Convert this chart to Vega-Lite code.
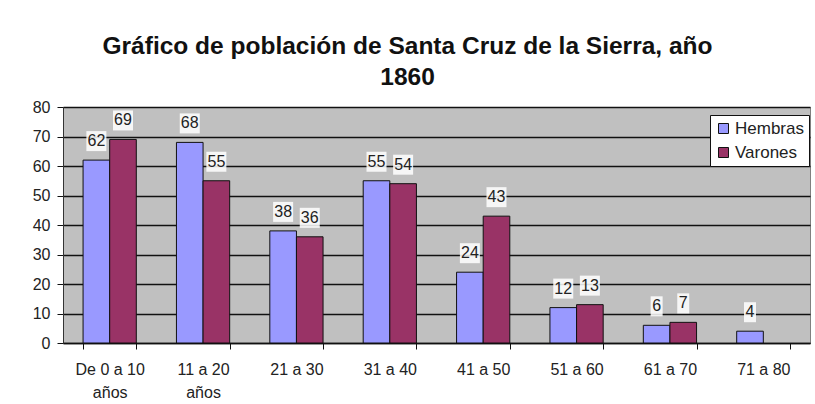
{
  "$schema": "https://vega.github.io/schema/vega-lite/v6.json",
  "width": 747,
  "height": 236,
  "autosize": {"type": "none"},
  "padding": {"left": 63, "top": 107, "right": 5, "bottom": 61},
  "background": "white",
  "title": {
    "text": ["Gráfico de población de Santa Cruz de la Sierra, año", "1860"],
    "font": "Liberation Sans",
    "fontSize": 24.5,
    "fontWeight": "bold",
    "color": "#111111",
    "lineHeight": 31,
    "offset": 9,
    "dx": -29
  },
  "config": {
    "font": "Liberation Sans",
    "view": {"fill": "#C0C0C0", "stroke": "#808080", "strokeWidth": 1}
  },
  "data": {
    "values": [
      {"grupo": "De 0 a 10 años", "sexo": "Hembras", "n": 62},
      {"grupo": "De 0 a 10 años", "sexo": "Varones", "n": 69},
      {"grupo": "11 a 20 años", "sexo": "Hembras", "n": 68},
      {"grupo": "11 a 20 años", "sexo": "Varones", "n": 55},
      {"grupo": "21 a 30", "sexo": "Hembras", "n": 38},
      {"grupo": "21 a 30", "sexo": "Varones", "n": 36},
      {"grupo": "31 a 40", "sexo": "Hembras", "n": 55},
      {"grupo": "31 a 40", "sexo": "Varones", "n": 54},
      {"grupo": "41 a 50", "sexo": "Hembras", "n": 24},
      {"grupo": "41 a 50", "sexo": "Varones", "n": 43},
      {"grupo": "51 a 60", "sexo": "Hembras", "n": 12},
      {"grupo": "51 a 60", "sexo": "Varones", "n": 13},
      {"grupo": "61 a 70", "sexo": "Hembras", "n": 6},
      {"grupo": "61 a 70", "sexo": "Varones", "n": 7},
      {"grupo": "71 a 80", "sexo": "Hembras", "n": 4}
    ]
  },
  "encoding": {
    "x": {
      "field": "grupo",
      "type": "nominal",
      "sort": null,
      "scale": {"paddingInner": 0.43, "paddingOuter": 0.215},
      "axis": {
        "title": null,
        "labelAngle": 0,
        "labelFontSize": 16,
        "labelColor": "#222222",
        "labelPadding": 12,
        "labelLineHeight": 23,
        "labelExpr": "datum.value == 'De 0 a 10 años' ? ['De 0 a 10', 'años'] : datum.value == '11 a 20 años' ? ['11 a 20', 'años'] : datum.value",
        "tickBand": "extent",
        "tickColor": "#111111",
        "tickSize": 6,
        "domainColor": "#111111",
        "domainWidth": 1.5,
        "grid": false
      }
    },
    "xOffset": {"field": "sexo", "type": "nominal", "sort": ["Hembras", "Varones"]},
    "y": {
      "field": "n",
      "type": "quantitative",
      "scale": {"domain": [0, 80], "nice": false},
      "axis": {
        "title": null,
        "values": [0, 10, 20, 30, 40, 50, 60, 70, 80],
        "labelFontSize": 16,
        "labelColor": "#222222",
        "labelPadding": 7,
        "tickSize": 6,
        "tickColor": "#111111",
        "domainColor": "#333333",
        "grid": true,
        "gridColor": "#111111",
        "gridWidth": 1.5
      }
    }
  },
  "layer": [
    {
      "mark": {"type": "bar", "stroke": "#111111", "strokeWidth": 1},
      "encoding": {
        "color": {
          "field": "sexo",
          "type": "nominal",
          "scale": {"domain": ["Hembras", "Varones"], "range": ["#9999FF", "#993366"]},
          "legend": {
            "title": null,
            "orient": "none",
            "legendX": 647,
            "legendY": 8,
            "fillColor": "white",
            "strokeColor": "#111111",
            "padding": 5,
            "symbolType": "square",
            "symbolSize": 100,
            "symbolStrokeColor": "#111111",
            "symbolStrokeWidth": 1,
            "labelFontSize": 17,
            "labelColor": "#222222",
            "rowPadding": 6,
            "labelOffset": 3
          }
        }
      }
    },
    {
      "mark": {"type": "point", "filled": true, "fill": "white", "opacity": 0.85, "strokeWidth": 0, "size": 400},
      "encoding": {
        "yOffset": {"value": -19},
        "shape": {
          "condition": {"test": "datum.n < 10", "value": "M-0.6,-1H0.6V1H-0.6Z"},
          "value": "M-1,-1H1V1H-1Z"
        }
      }
    },
    {
      "mark": {"type": "text", "fontSize": 16, "color": "#222222", "baseline": "middle", "dy": -19},
      "encoding": {"text": {"field": "n", "type": "quantitative"}}
    }
  ]
}
